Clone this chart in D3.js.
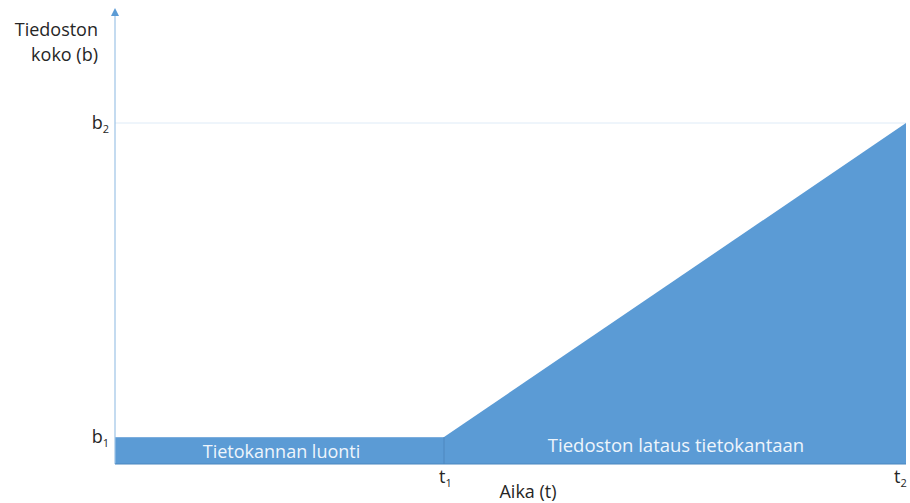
<!DOCTYPE html>
<html>
<head>
<meta charset="utf-8">
<script src="https://cdn.jsdelivr.net/npm/d3@7"></script>
<style>
  body { margin: 0; background: #fff; }
  svg { display: block; font-family: "Open Sans", sans-serif; }
</style>
</head>
<body>
<svg width="910" height="503"></svg>
<script>
// time marks (x) and size marks (y), relative units
const timeMarks = [
  { key: "t1", value: 41.6 },
  { key: "t2", value: 100 }
]
const sizeMarks = [
  { key: "b1", value: 7.9 },
  { key: "b2", value: 100 }
]
const phaseNames = ["Tietokannan luonti", "Tiedoston lataus tietokantaan"]
const yTitle = ["Tiedoston", "koko (b)"]
const xTitle = "Aika (t)"

const width = 910,
    height = 503
var margin = { top: 123, right: 4, bottom: 39, left: 115 }

const svg = d3.select("svg")

const t1 = timeMarks[0].value, t2 = timeMarks[1].value
const b1 = sizeMarks[0].value, b2 = sizeMarks[1].value

const x = d3.scaleLinear()
    .domain([0, t2])
    .range([margin.left, width - margin.right])

const y = d3.scaleLinear()
    .domain([0, b2])
    .range([height - margin.bottom, margin.top])

const fillColor = "#5b9bd5"

// b2 guide line
svg.append("line")
    .attr("x1", x(0)).attr("x2", x(t2))
    .attr("y1", y(b2)).attr("y2", y(b2))
    .attr("stroke", "#deebf7").attr("stroke-width", 1)

// phase 1: database creation
const phase1 = [[0, 0], [0, b1], [t1, b1], [t1, 0]]
// phase 2: file load
const phase2 = [[t1, 0], [t1, b1], [t2, b2], [t2, 0]]

const area = d3.line().x(d => x(d[0])).y(d => y(d[1]))

svg.append("path")
    .attr("d", area(phase1) + "Z")
    .attr("fill", fillColor)
svg.append("path")
    .attr("d", area(phase2) + "Z")
    .attr("fill", fillColor)

// top edge of phase 1 and divider
svg.append("line")
    .attr("x1", x(0)).attr("x2", x(t1))
    .attr("y1", y(b1) + 0.5).attr("y2", y(b1) + 0.5)
    .attr("stroke", "#7fb0de").attr("stroke-width", 1)
svg.append("line")
    .attr("x1", x(t1)).attr("x2", x(t1))
    .attr("y1", y(b1)).attr("y2", y(0))
    .attr("stroke", "#4a86be").attr("stroke-width", 1)

// phase labels
svg.append("text")
    .attr("x", x(t1 / 2) + 2).attr("y", y(b1 / 2) + 7)
    .attr("text-anchor", "middle")
    .attr("fill", "#eef5fc")
    .attr("font-size", 18)
    .text(phaseNames[0])
svg.append("text")
    .attr("x", (x(t1) + x(t2)) / 2 + 1).attr("y", y(0) - 12)
    .attr("text-anchor", "middle")
    .attr("fill", "#eef5fc")
    .attr("font-size", 18.5)
    .text(phaseNames[1])

// y axis with arrow
svg.append("line")
    .attr("x1", x(0)).attr("x2", x(0))
    .attr("y1", y(0)).attr("y2", 14)
    .attr("stroke", "#9dc3e6").attr("stroke-width", 1.2)
svg.append("path")
    .attr("d", `M${x(0) - 4},16 L${x(0)},8 L${x(0) + 4},16 Z`)
    .attr("fill", "#5b9bd5")

// bottom edge
svg.append("line")
    .attr("x1", x(0)).attr("x2", x(t2))
    .attr("y1", y(0)).attr("y2", y(0))
    .attr("stroke", "#4a86be").attr("stroke-width", 1)

// tick labels with subscripts
const tickLabel = (g, key, xx, yy, anchor) => {
    const t = g.append("text")
        .attr("x", xx).attr("y", yy)
        .attr("text-anchor", anchor)
        .attr("fill", "#262626")
        .attr("font-size", 18)
    t.append("tspan").text(key[0])
    t.append("tspan").attr("font-size", 11).attr("dy", 4).text(key.slice(1))
}

sizeMarks.forEach(d => tickLabel(svg, d.key, 109, y(d.value) + 6, "end"))
// keep the last label inside the page
timeMarks.forEach(d => tickLabel(svg, d.key, Math.min(x(d.value) - 5, width - 16), y(0) + 19, "start"))

// axis titles
svg.append("g")
    .selectAll("text")
    .data(yTitle)
    .join("text")
    .attr("x", 98)
    .attr("y", (d, i) => 36 + i * 25)
    .attr("text-anchor", "end")
    .attr("fill", "#262626")
    .attr("font-size", 18)
    .text(d => d)

svg.append("text")
    .attr("x", 528).attr("y", 498)
    .attr("text-anchor", "middle")
    .attr("fill", "#262626")
    .attr("font-size", 18)
    .text(xTitle)
</script>
</body>
</html>
